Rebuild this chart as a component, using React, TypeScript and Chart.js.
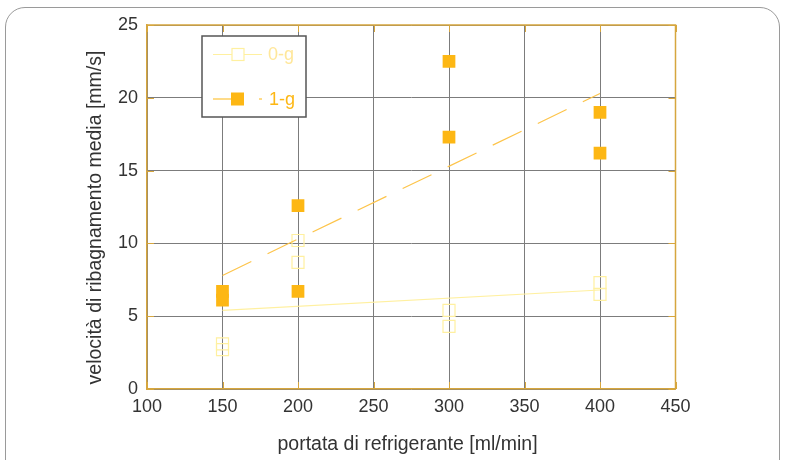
import React, { useEffect, useRef } from "react";
import { Chart, registerables } from "chart.js";

Chart.register(...registerables);

const flowRates0g = [150, 150, 200, 200, 300, 300, 400, 400];
const speeds0g = [3.1, 2.7, 10.2, 8.7, 5.4, 4.3, 7.3, 6.5];
const flowRates1g = [150, 150, 200, 200, 300, 300, 400, 400];
const speeds1g = [6.7, 6.1, 12.6, 6.7, 22.5, 17.3, 19.0, 16.2];
const trendX = [150, 400];
const trend0g = [5.4, 6.8];
const trend1g = [7.8, 20.3];
const xTicks = [100, 150, 200, 250, 300, 350, 400, 450];
const yTicks = [0, 5, 10, 15, 20, 25];
const legendLabels = ["0-g", "1-g"];
const xTitle = "portata di refrigerante [ml/min]";
const yTitle = "velocità di ribagnamento media [mm/s]";

const PALE = "#FFF0A0";
const PALE_TEXT = "#FFE79A";
const ORANGE = "#FDB714";
const ORANGE_LINE = "#FDC44A";
const GOLD = "#D6A63E";
const FONT = "'Liberation Sans', Arial, sans-serif";

const frameAndTitles = {
  id: "frameAndTitles",
  afterDraw(chart: any) {
    const { ctx, chartArea: a, scales } = chart;
    ctx.save();
    // top and right golden borders
    ctx.strokeStyle = GOLD;
    ctx.lineWidth = 1.5;
    ctx.beginPath();
    ctx.moveTo(a.left, a.top);
    ctx.lineTo(a.right, a.top);
    ctx.lineTo(a.right, a.bottom);
    ctx.stroke();
    // inner tick marks
    ctx.lineWidth = 1;
    const L = 7;
    ctx.beginPath();
    xTicks.forEach((v) => {
      const x = Math.round(scales.x.getPixelForValue(v)) + 0.5;
      ctx.moveTo(x, a.top);
      ctx.lineTo(x, a.top + L);
      ctx.moveTo(x, a.bottom);
      ctx.lineTo(x, a.bottom - L);
    });
    yTicks.forEach((v) => {
      const y = Math.round(scales.y.getPixelForValue(v)) + 0.5;
      ctx.moveTo(a.left, y);
      ctx.lineTo(a.left + L, y);
      ctx.moveTo(a.right, y);
      ctx.lineTo(a.right - L, y);
    });
    ctx.stroke();
    // axis titles
    ctx.fillStyle = "#333333";
    ctx.font = `19.5px ${FONT}`;
    ctx.textAlign = "center";
    ctx.textBaseline = "alphabetic";
    ctx.fillText(xTitle, 407.5, 450);
    ctx.translate(96, 217.5);
    ctx.rotate(-Math.PI / 2);
    ctx.textBaseline = "middle";
    ctx.fillText(yTitle, 0, 0);
    ctx.restore();
  },
};

const customLegend = {
  id: "customLegend",
  afterDraw(chart: any) {
    const { ctx } = chart;
    ctx.save();
    const bx = 202, by = 36, bw = 104, bh = 81;
    ctx.fillStyle = "#ffffff";
    ctx.fillRect(bx, by, bw, bh);
    ctx.strokeStyle = "#555555";
    ctx.lineWidth = 1.5;
    ctx.strokeRect(bx, by, bw, bh);
    const y1 = 54.5;
    ctx.strokeStyle = PALE;
    ctx.lineWidth = 1.2;
    ctx.beginPath();
    ctx.moveTo(213, y1);
    ctx.lineTo(262, y1);
    ctx.stroke();
    ctx.fillStyle = "#ffffff";
    ctx.fillRect(232, y1 - 6, 12, 12);
    ctx.strokeRect(232, y1 - 6, 12, 12);
    ctx.font = `18px ${FONT}`;
    ctx.textBaseline = "middle";
    ctx.fillStyle = PALE_TEXT;
    ctx.fillText(legendLabels[0], 268, y1 + 1);
    const y2 = 99;
    ctx.strokeStyle = ORANGE;
    ctx.beginPath();
    ctx.moveTo(213, y2);
    ctx.lineTo(236, y2);
    ctx.moveTo(259, y2);
    ctx.lineTo(262, y2);
    ctx.stroke();
    ctx.fillStyle = ORANGE;
    ctx.fillRect(231, y2 - 6.5, 13, 13);
    ctx.fillText(legendLabels[1], 269, y2 + 1);
    ctx.restore();
  },
};

export default function App() {
  const ref = useRef<HTMLCanvasElement | null>(null);
  useEffect(() => {
    if (!ref.current) return;
    const chart = new Chart(ref.current, {
      type: "scatter",
      data: {
        datasets: [
          {
            type: "line",
            label: "trend 0-g",
            data: trendX.map((x, i) => ({ x, y: trend0g[i] })),
            borderColor: PALE,
            borderWidth: 1.2,
            pointRadius: 0,
            showLine: true,
          },
          {
            type: "line",
            label: "trend 1-g",
            data: trendX.map((x, i) => ({ x, y: trend1g[i] })),
            borderColor: ORANGE_LINE,
            borderWidth: 1.2,
            borderDash: [32, 18],
            pointRadius: 0,
            showLine: true,
          },
          {
            label: legendLabels[0],
            data: flowRates0g.map((x, i) => ({ x, y: speeds0g[i] })),
            pointStyle: "rect",
            pointRadius: 8.5,
            backgroundColor: "rgba(255,255,255,0)",
            borderColor: PALE,
            borderWidth: 1.2,
          },
          {
            label: legendLabels[1],
            data: flowRates1g.map((x, i) => ({ x, y: speeds1g[i] })),
            pointStyle: "rect",
            pointRadius: 9,
            backgroundColor: ORANGE,
            borderColor: ORANGE,
            borderWidth: 0,
          },
        ],
      },
      options: {
        animation: false,
        responsive: false,
        layout: { padding: { left: 0, top: 25, right: 111.5, bottom: 0 } },
        plugins: { legend: { display: false }, tooltip: { enabled: false } },
        scales: {
          x: {
            type: "linear",
            min: 100,
            max: 450,
            afterBuildTicks: (s: any) => {
              s.ticks = xTicks.map((v) => ({ value: v }));
            },
            afterFit: (s: any) => {
              s.height = 71;
            },
            grid: { color: "#7c7c7c", lineWidth: 1, drawTicks: false },
            border: { color: GOLD, width: 1.5 },
            ticks: {
              padding: 7,
              color: "#333333",
              font: { family: FONT, size: 18 },
              maxRotation: 0,
            },
            title: { display: false },
          },
          y: {
            type: "linear",
            min: 0,
            max: 25,
            afterBuildTicks: (s: any) => {
              s.ticks = yTicks.map((v) => ({ value: v }));
            },
            afterFit: (s: any) => {
              s.width = 147;
            },
            grid: { color: "#7c7c7c", lineWidth: 1, drawTicks: false },
            border: { color: GOLD, width: 1.5 },
            ticks: {
              padding: 9,
              color: "#333333",
              font: { family: FONT, size: 18 },
            },
            title: { display: false },
          },
        },
      },
      plugins: [frameAndTitles, customLegend],
    });
    return () => chart.destroy();
  }, []);

  return (
    <div style={{ position: "fixed", left: 0, top: 0, width: 787, height: 460, background: "#fff", overflow: "hidden" }}>
      <div
        style={{
          position: "absolute",
          left: 5,
          top: 7,
          width: 775,
          height: 490,
          border: "1.5px solid #9a9a9a",
          borderRadius: 20,
          boxSizing: "border-box",
        }}
      />
      <canvas ref={ref} width={787} height={460} style={{ position: "absolute", left: 0, top: 0 }} />
    </div>
  );
}
